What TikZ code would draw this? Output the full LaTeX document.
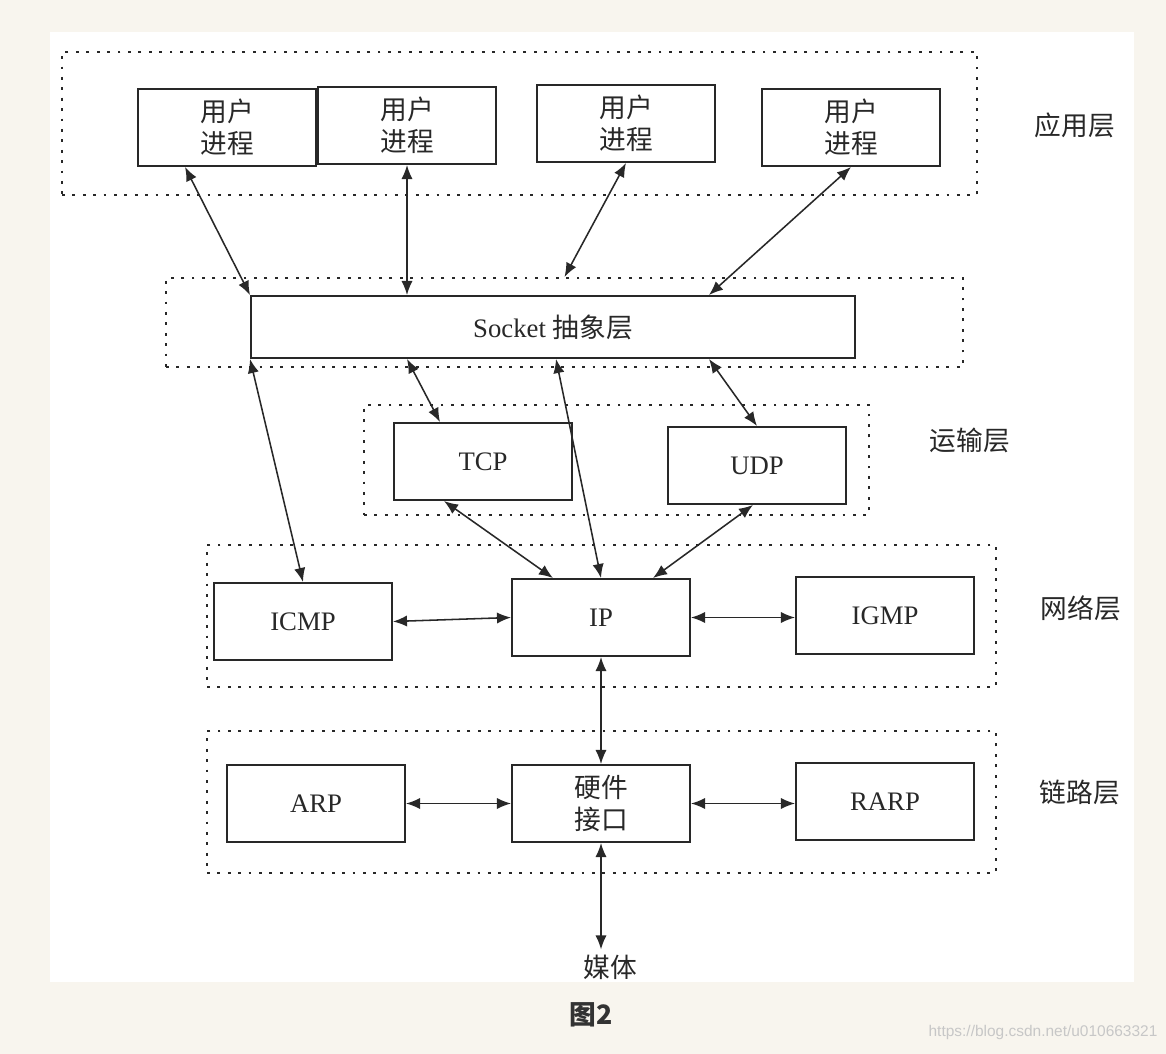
\documentclass[tikz,border=0pt]{standalone}
\usepackage{fontspec}
\setmainfont{Liberation Serif}
\newfontfamily\cjk{Noto Sans CJK SC}
\newfontfamily\wmfont{Liberation Sans}
\usetikzlibrary{positioning, arrows.meta, calc}
\definecolor{pagebg}{RGB}{248,245,238}
\definecolor{inkgray}{RGB}{40,40,40}
\newcommand\pxu{0.025cm}

\begin{document}
\begin{tikzpicture}[x=0.025cm, y=-0.025cm,
    box/.style={draw=inkgray, line width=1.4pt, minimum width=178*\pxu, minimum height=77*\pxu,
      inner sep=0pt, align=center, text=inkgray, font=\fontsize{19}{23}\selectfont},
    cjkbox/.style={box, font=\cjk\fontsize{19}{23}\selectfont},
    layer/.style={draw=inkgray, line width=1.5pt, dash pattern=on 2pt off 5.4pt, inner sep=0pt},
    link/.style={{Latex[length=10pt,width=8pt]}-{Latex[length=10pt,width=8pt]}, line width=1.1pt, inkgray},
    lbl/.style={font=\cjk\fontsize{19}{23}\selectfont, text=inkgray, inner sep=0pt}]

    % Page and white panel
    \fill[pagebg] (0,0) rectangle (1166,1054);
    \fill[white] (50,32) rectangle (1134,982);
    \useasboundingbox (0,0) rectangle (1166,1054);

    % Dotted layer frames
    \foreach \n/\x/\y/\w/\h in {lapp/519.5/123.5/915/143, lsock/564.5/322.5/797/89, ltrans/616.5/460/505/110,
        lnet/601.5/616/789/142, llink/601.5/802/789/142} {
      \node[layer, minimum width=\w*\pxu, minimum height=\h*\pxu] (\n) at (\x,\y) {};
    }

    % User processes
    \foreach \n/\x/\y in {u1/227/127.5, u2/407/125.5, u3/626/123.5, u4/851/127.5} {
      \node[cjkbox] (\n) at (\x,\y) {用户\\进程};
    }

    % Socket layer
    \node[box, minimum width=604*\pxu, minimum height=62*\pxu] (sock) at (553,327) {Socket {\cjk 抽象层}};

    % Protocol boxes
    \foreach \n/\x/\y/\t in {tcp/483/461.5/TCP, udp/757/465.5/UDP, icmp/303/621.5/ICMP, ip/601/617.5/IP,
        igmp/885/615.5/IGMP, arp/316/803.5/ARP, rarp/885/801.5/RARP} {
      \node[box] (\n) at (\x,\y) {\t};
    }
    \node[cjkbox] (hw) at (601,803.5) {硬件\\接口};

    % Layer names
    \foreach \n/\x/\y/\t in {tapp/1075/125/应用层, ttrans/970/440/运输层, tnet/1081/608/网络层, tlink/1080/792/链路层} {
      \node[lbl] (\n) at (\x,\y) {\t};
    }
    \node[lbl] (media) at (610,967) {媒体};

    % Connectors
    \draw[link] ($(u1.south)+(-42,0)$) -- (sock.north west);
    \draw[link] (u2.south) -- (u2.south |- sock.north);
    \draw[link] (u3.south) -- (lsock.north);
    \draw[link] (u4.south) -- ($(sock.north east)+(-147,0)$);
    \draw[link] ($(sock.south)+(-146,0)$) -- ($(tcp.north)+(-43,0)$);
    \draw[link] ($(sock.south)+(3,0)$) -- (ip.north);
    \draw[link] ($(sock.south east)+(-147,0)$) -- (udp.north);
    \draw[link] (sock.south west) -- (icmp.north);
    \draw[link] ($(tcp.south)+(-39,0)$) -- ($(ip.north)+(-48,0)$);
    \draw[link] ($(udp.south)+(-4,0)$) -- ($(ip.north)+(52,0)$);
    \draw[link] (icmp.east) -- (ip.west);
    \draw[link] (ip.east) -- (ip.east -| igmp.west);
    \draw[link] (ip.south) -- (hw.north);
    \draw[link] (arp.east) -- (hw.west);
    \draw[link] (hw.east) -- (hw.east -| rarp.west);
    \draw[link] (hw.south) -- ($(hw.south |- media.north)+(0,-5)$);

    % Caption and watermark
    \node[lbl, text=black!80] (cap) at (591,1015) {\bfseries 图2};
    \node[font=\wmfont\fontsize{11}{13}\selectfont, text=black!22, inner sep=0pt] (wm) at (1043,1032) {https://blog.csdn.net/u010663321};
\end{tikzpicture}
\end{document}
